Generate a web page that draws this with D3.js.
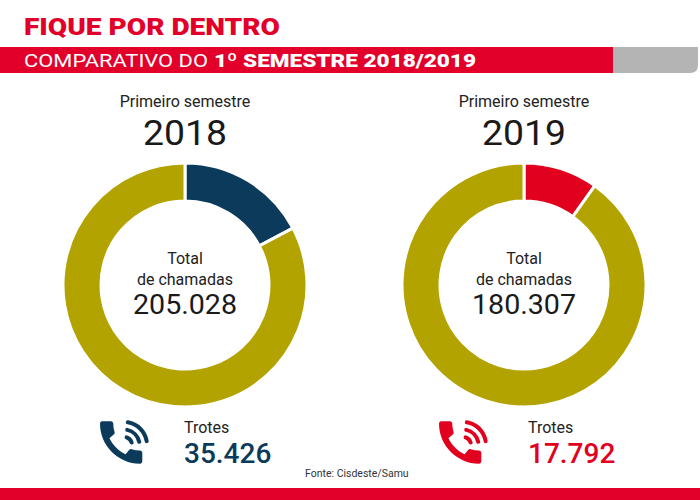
<!DOCTYPE html>
<html lang="pt">
<head>
<meta charset="UTF-8">
<title>Fique por dentro</title>
<script src="https://d3js.org/d3.v7.min.js"></script>
<style>
    body{ margin:0; background:#fff; }
    svg{ display:block; font-family: Roboto, "Noto Sans", sans-serif; }
</style>
</head>
<body>
<svg width="700" height="500" viewBox="0 0 700 500"></svg>
<script>
    // dados
    const anos = ["2018", "2019"];
    const totalChamadas = [205028, 180307];
    const trotes = [35426, 17792];
    const coresTrote = ["#0b3a5a", "#e2001f"];
    const corResto = "#b3a300";
    const fonte = "Fonte: Cisdeste/Samu";

    const fmt = d3.formatLocale({decimal: ",", thousands: ".", grouping: [3], currency: ["R$", ""]}).format(",d");

    let svg = d3.select('svg');

    // cabecalho
    svg.append('text').attr('x', 24).attr('y', 35)
        .attr('fill', '#e2002a').attr('font-size', 24).attr('font-weight', 900)
        .attr('textLength', 256).attr('lengthAdjust', 'spacingAndGlyphs')
        .text('FIQUE POR DENTRO');
    svg.append('rect').attr('x', 0).attr('y', 47).attr('width', 613).attr('height', 26).attr('fill', '#e2002a');
    svg.append('path').attr('d', 'M613,47 H698 V65 Q698,73 690,73 H613 Z').attr('fill', '#b4b4b4');
    svg.append('text').attr('x', 24).attr('y', 67).attr('fill', '#fff').attr('font-size', 19)
        .attr('textLength', 184).attr('lengthAdjust', 'spacingAndGlyphs')
        .text('COMPARATIVO DO');
    svg.append('text').attr('x', 214).attr('y', 67).attr('fill', '#fff').attr('font-size', 19).attr('font-weight', 900)
        .attr('textLength', 262).attr('lengthAdjust', 'spacingAndGlyphs')
        .text('1º SEMESTRE 2018/2019');
    svg.append('rect').attr('x', 0).attr('y', 488).attr('width', 700).attr('height', 12).attr('fill', '#e2002a');

    // escala das colunas
    let xCol = d3.scalePoint().domain(anos).range([185, 524]);
    const cy = 285, rOut = 122, rIn = 84;

    let pie = d3.pie().sort(null).value(d => d.v);
    let arc = d3.arc().innerRadius(rIn).outerRadius(rOut);

    anos.forEach(function (ano, i) {
        let cx = xCol(ano);
        let g = svg.append('g').attr('transform', 'translate(' + cx + ',' + cy + ')');
        let fatias = [
            {v: trotes[i], c: coresTrote[i]},
            {v: totalChamadas[i] - trotes[i], c: corResto}
        ];
        g.selectAll('path').data(pie(fatias)).join('path')
            .attr('d', arc)
            .attr('fill', d => d.data.c)
            .attr('stroke', '#fff').attr('stroke-width', 3);

        g.append('text').attr('y', 264 - cy).attr('text-anchor', 'middle')
            .attr('font-size', 16).attr('fill', '#222').text('Total');
        g.append('text').attr('y', 285 - cy).attr('text-anchor', 'middle')
            .attr('font-size', 16).attr('fill', '#222').text('de chamadas');
        g.append('text').attr('y', 314 - cy).attr('text-anchor', 'middle')
            .attr('font-size', 27).attr('fill', '#1a1a1a')
            .attr('textLength', 104).attr('lengthAdjust', 'spacingAndGlyphs')
            .text(fmt(totalChamadas[i]));

        svg.append('text').attr('x', cx).attr('y', 107).attr('text-anchor', 'middle')
            .attr('font-size', 16).attr('fill', '#222').text('Primeiro semestre');
        svg.append('text').attr('x', cx).attr('y', 145).attr('text-anchor', 'middle')
            .attr('font-size', 35).attr('fill', '#1a1a1a')
            .attr('textLength', 84).attr('lengthAdjust', 'spacingAndGlyphs')
            .text(ano);

        // telefone
        let tx = cx - 85;
        let ic = svg.append('g').attr('transform', 'translate(' + tx + ',419)').attr('fill', coresTrote[i]);
        ic.append('path')
            .attr('transform', 'translate(0,0) scale(2.35) translate(-3,-2)')
            .attr('d', 'M20.01 15.38c-1.23 0-2.42-.2-3.53-.56-.35-.12-.74-.03-1.01.24l-1.57 1.97c-2.83-1.35-5.48-3.9-6.89-6.83l1.95-1.66c.27-.28.35-.67.24-1.02-.37-1.11-.56-2.3-.56-3.53 0-.54-.45-.99-.99-.99H4.19C3.65 3 3 3.24 3 3.990 3 13.28 10.73 21 20.01 21c.71 0 .99-.63.99-1.18v-3.45c0-.54-.45-.99-.99-.99z');
        [8, 15.5, 23].forEach(function (r) {
            ic.append('path')
                .attr('transform', 'translate(24,26)')
                .attr('d', d3.arc().innerRadius(r - 2).outerRadius(r + 2).startAngle(0.08).endAngle(Math.PI / 2 - 0.08).cornerRadius(2)());
        });

        svg.append('text').attr('x', cx - 1 + (i ? 5 : 0)).attr('y', 433)
            .attr('font-size', 16).attr('fill', '#222').text('Trotes');
        svg.append('text').attr('x', cx - 1 + (i ? 5 : 0)).attr('y', 463)
            .attr('font-size', 28).attr('font-weight', 500).attr('fill', coresTrote[i]).text(fmt(trotes[i]));
    });

    svg.append('text').attr('x', 305).attr('y', 477).attr('font-size', 10.5).attr('fill', '#333').text(fonte);
</script>
</body>
</html>
